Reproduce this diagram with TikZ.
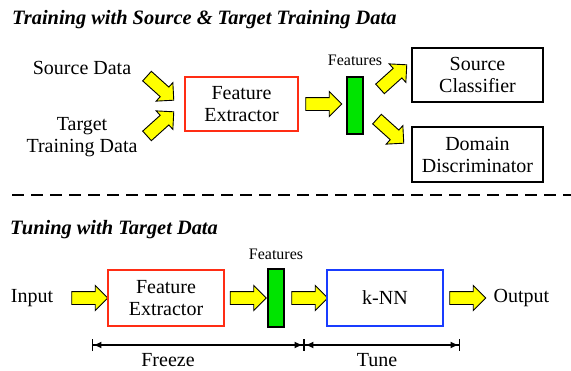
\documentclass[tikz,border=0pt]{standalone}
\usepackage{fontspec}
\setmainfont{Liberation Serif}
\usepackage{tikz}
\usetikzlibrary{shapes,arrows,arrows.meta}
\definecolor{fbyellow}{RGB}{255,255,0}
\definecolor{fbgreen}{RGB}{0,228,0}
\definecolor{fbred}{RGB}{255,45,20}
\definecolor{fbblue}{RGB}{25,60,255}

\begin{document}
\begin{tikzpicture}[x=1pt, y=-1pt, node distance = 50pt, auto]
        \tikzstyle{label} = [font=\fontsize{20}{22}\selectfont, align=center, inner sep=0pt]
        \tikzstyle{head} = [font=\fontsize{20.4}{22}\selectfont\bfseries\itshape, anchor=west, inner sep=0pt]
        \tikzstyle{small} = [font=\fontsize{16}{18}\selectfont, inner sep=0pt]
        \tikzstyle{block} = [rectangle, draw, line width=2.6pt, fill=white, align=center, font=\fontsize{20}{22}\selectfont, inner sep=0pt]
        \tikzstyle{bar} = [rectangle, draw, line width=1.4pt, fill=fbgreen, minimum width=16pt, minimum height=57pt, inner sep=0pt]
        \tikzstyle{flow} = [single arrow, draw, line width=0.9pt, fill=fbyellow, minimum height=36pt, inner xsep=0pt, inner ysep=6pt, single arrow head extend=6pt]
        \tikzstyle{dimline} = [draw, line width=1.4pt, {Bar[width=12pt]Latex[length=8pt,width=7pt]}-{Latex[length=8pt,width=7pt]Bar[width=12pt]}]
    \useasboundingbox (0,0) rectangle (571,370);

    % training
    \node [head] (title 1) at (12,20) {Training with Source \& Target Training Data};
    \node [label] (source) at (82,68) {Source Data};
    \node [label] (target) at (82,137) {Target\\Training Data};
    \node [block, draw=fbred, line width=2pt, minimum width=113pt, minimum height=54pt] (extractor 1) at (241.5,104) {Feature\\Extractor};
    \node [flow, rotate=-42] (arrow a) at (158,86) {};
    \node [flow, rotate=42] (arrow b) at (158,126) {};
    \node [flow, right of=extractor 1, node distance=79pt] (arrow c) {};
    \node [bar] (features 1) at (355,105.5) {};
    \node [small, above of=features 1, node distance=45.5pt] (features label 1) {Features};
    \node [flow, rotate=42] (arrow d) at (391,79) {};
    \node [flow, rotate=-42] (arrow e) at (388,129) {};
    \node [block, minimum width=131pt, minimum height=54pt] (classifier) at (477.5,75) {Source\\Classifier};
    \node [block, minimum width=131pt, minimum height=55pt] (discriminator) at (477.5,154.5) {Domain\\Discriminator};

    \coordinate (split left) at (12,195);
    \coordinate (split right) at (571,195);
    \path [draw, line width=2pt, dash pattern=on 12pt off 7pt] (split left) -- (split right);

    % tuning
    \node [head] (title 2) at (10,230) {Tuning with Target Data};
    \node [label] (input) at (32,298) {Input};
    \node [flow, right of=input, node distance=54.5pt] (arrow 1) {};
    \node [block, draw=fbred, line width=2pt, minimum width=116pt, minimum height=56pt, right of=arrow 1, node distance=79.5pt] (extractor 2) {Feature\\Extractor};
    \node [flow, right of=extractor 2, node distance=79pt] (arrow 2) {};
    \node [bar, minimum height=58pt, right of=arrow 2, node distance=31pt] (features 2) {};
    \node [small, above of=features 2, node distance=44pt] (features label 2) {Features};
    \node [flow, right of=features 2, node distance=30.5pt] (arrow 3) {};
    \node [block, draw=fbblue, minimum width=116pt, minimum height=56pt, right of=arrow 3, node distance=78.5pt] (knn) {k-NN};
    \node [flow, right of=knn, node distance=79.5pt] (arrow 4) {};
    \node [label, right of=arrow 4, node distance=57pt] (output) {Output};

    \coordinate (freeze start) at (92,345);
    \coordinate (freeze end) at (304,345);
    \coordinate (tune end) at (460,345);
    \path [dimline] (freeze start) -- (freeze end);
    \path [dimline] (freeze end) -- (tune end);
    \node [label] (freeze) at (168,360) {Freeze};
    \node [label] (tune) at (377,360) {Tune};
    \end{tikzpicture}
\end{document}
